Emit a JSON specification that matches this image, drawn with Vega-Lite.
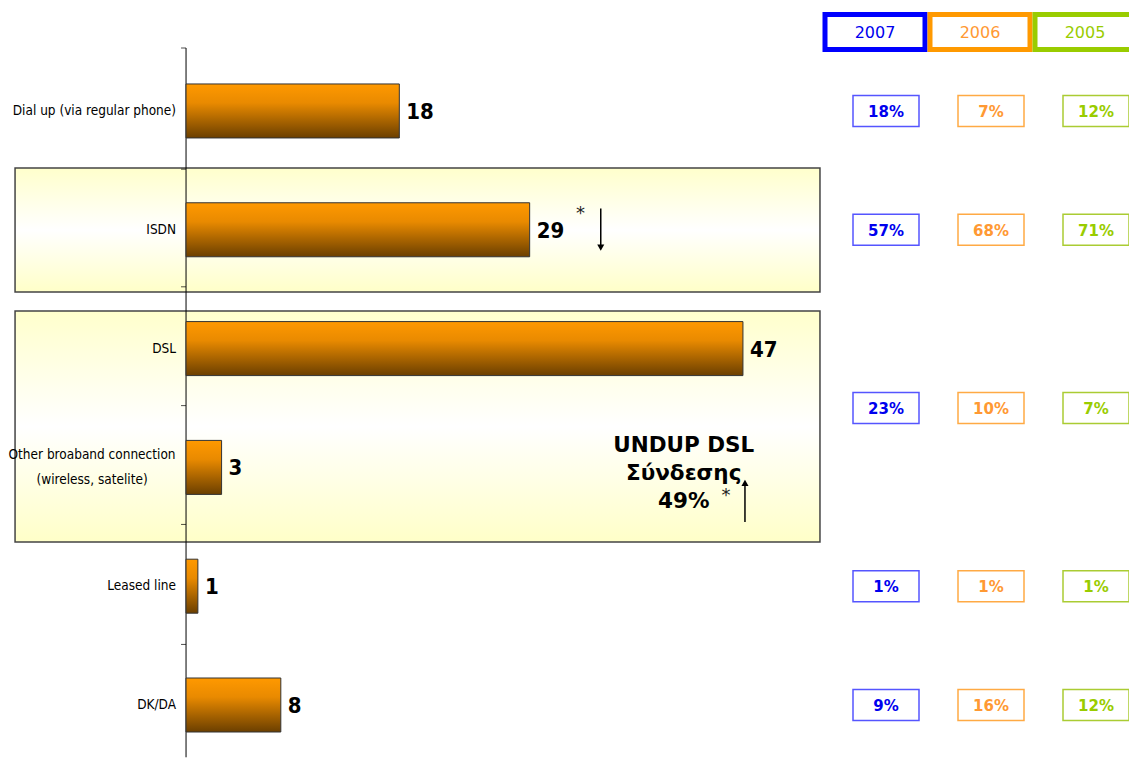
{
  "$schema": "https://vega.github.io/schema/vega-lite/v6.json",
  "width": 1129,
  "height": 758,
  "autosize": "none",
  "padding": 0,
  "background": "white",
  "config": {"view": {"stroke": null}, "scale": {"continuousPadding": 0}},
  "datasets": {
    "bars": [
      {"category": "Dial up (via regular phone)", "row": 0, "value": 18},
      {"category": "ISDN", "row": 1, "value": 29},
      {"category": "DSL", "row": 2, "value": 47},
      {"category": "Other broaband connection\n(wireless, satelite)", "row": 3, "value": 3},
      {"category": "Leased line", "row": 4, "value": 1},
      {"category": "DK/DA", "row": 5, "value": 8}
    ],
    "groups": [
      {"group": "ISDN", "x0": -14.43, "x1": 53.5, "y0": 0.48, "y1": 1.524},
      {"group": "Broadband", "x0": -14.43, "x1": 53.5, "y0": 1.684, "y1": 3.628}
    ],
    "axisline": [{"top": -0.53, "bottom": 5.44}],
    "ticks": [{"b": -0.53}, {"b": 0.49}, {"b": 1.48}, {"b": 2.48}, {"b": 3.48}, {"b": 4.49}],
    "notes": [
      {"text": "UNDUP DSL\nΣύνδεσης\n49%", "x": 42.0, "y": 2.82}
    ],
    "stars": [
      {"x": 32.9, "y": 0.87},
      {"x": 45.2, "y": 3.24}
    ],
    "arrows": [
      {"x": 35.0, "y0": 0.82, "y1": 1.15, "dir": "triangle-down"},
      {"x": 47.17, "y0": 3.46, "y1": 3.13, "dir": "triangle-up"}
    ],
    "years": [
      {"year": "2007", "row": -0.665},
      {"year": "2006", "row": -0.665},
      {"year": "2005", "row": -0.665}
    ],
    "table": [
      {"row": 0, "year": "2007", "share": "18%"},
      {"row": 0, "year": "2006", "share": "7%"},
      {"row": 0, "year": "2005", "share": "12%"},
      {"row": 1, "year": "2007", "share": "57%"},
      {"row": 1, "year": "2006", "share": "68%"},
      {"row": 1, "year": "2005", "share": "71%"},
      {"row": 2.5, "year": "2007", "share": "23%"},
      {"row": 2.5, "year": "2006", "share": "10%"},
      {"row": 2.5, "year": "2005", "share": "7%"},
      {"row": 4, "year": "2007", "share": "1%"},
      {"row": 4, "year": "2006", "share": "1%"},
      {"row": 4, "year": "2005", "share": "1%"},
      {"row": 5, "year": "2007", "share": "9%"},
      {"row": 5, "year": "2006", "share": "16%"},
      {"row": 5, "year": "2005", "share": "12%"}
    ]
  },
  "layer": [
    {
      "layer": [
        {
          "data": {"name": "groups"},
          "mark": {
            "type": "rect",
            "stroke": "#444444",
            "strokeWidth": 1.5,
            "color": {
              "gradient": "linear", "x1": 0, "y1": 0, "x2": 0, "y2": 1,
              "stops": [
                {"offset": 0, "color": "#FFFFCC"},
                {"offset": 0.5, "color": "#FFFFFF"},
                {"offset": 1, "color": "#FFFFC8"}
              ]
            }
          },
          "encoding": {
            "x": {"field": "x0", "type": "quantitative", "scale": {"domain": [-15.7, 79.58], "nice": false, "zero": false, "padding": 0}, "axis": null},
            "x2": {"field": "x1"},
            "y": {"field": "y0", "type": "quantitative", "scale": {"domain": [-0.934, 5.446], "reverse": true, "nice": false, "zero": false, "padding": 0}, "axis": null},
            "y2": {"field": "y1"}
          }
        },
        {
          "data": {"name": "axisline"},
          "mark": {"type": "rule", "color": "#000000", "strokeWidth": 1},
          "encoding": {
            "x": {"datum": 0, "type": "quantitative"},
            "y": {"field": "top", "type": "quantitative"},
            "y2": {"field": "bottom"}
          }
        },
        {
          "data": {"name": "ticks"},
          "mark": {"type": "tick", "orient": "horizontal", "size": 5, "thickness": 1, "xOffset": -2.5, "color": "#000000"},
          "encoding": {
            "x": {"datum": 0, "type": "quantitative"},
            "y": {"field": "b", "type": "quantitative"}
          }
        },
        {
          "data": {"name": "bars"},
          "mark": {
            "type": "bar",
            "orient": "horizontal",
            "size": 54,
            "stroke": "#333333",
            "strokeWidth": 1,
            "color": {
              "gradient": "linear", "x1": 0, "y1": 0, "x2": 0, "y2": 1,
              "stops": [
                {"offset": 0, "color": "#FF9900"},
                {"offset": 0.35, "color": "#E98A00"},
                {"offset": 1, "color": "#6B3F00"}
              ]
            }
          },
          "encoding": {
            "x": {"field": "value", "type": "quantitative"},
            "x2": {"datum": 0},
            "y": {"field": "row", "type": "quantitative"}
          }
        },
        {
          "data": {"name": "bars"},
          "mark": {"type": "text", "align": "left", "baseline": "middle", "dx": 7, "dy": 1, "font": "DejaVu Sans Condensed", "fontWeight": "bold", "fontSize": 22, "color": "#000000"},
          "encoding": {
            "x": {"field": "value", "type": "quantitative"},
            "y": {"field": "row", "type": "quantitative"},
            "text": {"field": "value", "type": "quantitative"}
          }
        },
        {
          "data": {"name": "bars"},
          "transform": [{"filter": "indexof(datum.category, '\\n') < 0"}],
          "mark": {"type": "text", "align": "right", "baseline": "middle", "dx": -10, "font": "DejaVu Sans Condensed", "fontSize": 13.5, "color": "#000000"},
          "encoding": {
            "x": {"datum": 0, "type": "quantitative"},
            "y": {"field": "row", "type": "quantitative"},
            "text": {"field": "category", "type": "nominal"}
          }
        },
        {
          "data": {"name": "bars"},
          "transform": [{"filter": "indexof(datum.category, '\\n') >= 0"}],
          "mark": {"type": "text", "align": "center", "baseline": "middle", "dx": -94, "dy": -12, "lineBreak": "\n", "lineHeight": 25, "font": "DejaVu Sans Condensed", "fontSize": 13.5, "color": "#000000"},
          "encoding": {
            "x": {"datum": 0, "type": "quantitative"},
            "y": {"field": "row", "type": "quantitative"},
            "text": {"field": "category", "type": "nominal"}
          }
        },
        {
          "data": {"name": "notes"},
          "mark": {"type": "text", "align": "center", "baseline": "middle", "lineBreak": "\n", "lineHeight": 28, "font": "DejaVu Sans", "fontWeight": "bold", "fontSize": 21.5, "color": "#000000"},
          "encoding": {
            "x": {"field": "x", "type": "quantitative"},
            "y": {"field": "y", "type": "quantitative"},
            "text": {"field": "text", "type": "nominal"}
          }
        },
        {
          "data": {"name": "stars"},
          "mark": {"type": "text", "align": "left", "baseline": "middle", "text": "*", "font": "DejaVu Sans", "fontSize": 18, "color": "#222222"},
          "encoding": {
            "x": {"field": "x", "type": "quantitative"},
            "y": {"field": "y", "type": "quantitative"}
          }
        },
        {
          "data": {"name": "arrows"},
          "mark": {"type": "rule", "color": "#000000", "strokeWidth": 1.5},
          "encoding": {
            "x": {"field": "x", "type": "quantitative"},
            "y": {"field": "y0", "type": "quantitative"},
            "y2": {"field": "y1"}
          }
        },
        {
          "data": {"name": "arrows"},
          "mark": {"type": "point", "filled": true, "size": 50, "color": "#000000", "opacity": 1},
          "encoding": {
            "x": {"field": "x", "type": "quantitative"},
            "y": {"field": "y1", "type": "quantitative"},
            "shape": {"field": "dir", "type": "nominal", "scale": {"domain": ["triangle-down", "triangle-up"], "range": ["triangle-down", "triangle-up"]}, "legend": null}
          }
        }
      ]
    },
    {
      "layer": [
        {
          "data": {"name": "years"},
          "mark": {"type": "rect", "width": 100, "height": 35, "xOffset": -11, "strokeWidth": 5, "fill": "#FFFFFF"},
          "encoding": {
            "x": {"field": "year", "type": "ordinal", "scale": {"type": "point", "domain": ["2007", "2006", "2005"], "range": [886, 1096], "padding": 0}, "axis": null},
            "y": {"field": "row", "type": "quantitative", "scale": {"domain": [-0.934, 5.446], "reverse": true, "nice": false, "zero": false, "padding": 0}, "axis": null},
            "stroke": {"field": "year", "type": "nominal", "scale": {"domain": ["2007", "2006", "2005"], "range": ["#0000FF", "#FF9900", "#99CC00"]}, "legend": null}
          }
        },
        {
          "data": {"name": "years"},
          "mark": {"type": "text", "align": "center", "baseline": "middle", "xOffset": -11, "dy": 1, "font": "DejaVu Sans", "fontSize": 16},
          "encoding": {
            "x": {"field": "year", "type": "ordinal"},
            "y": {"field": "row", "type": "quantitative"},
            "text": {"field": "year", "type": "nominal"},
            "color": {"field": "year", "type": "nominal", "scale": {"domain": ["2007", "2006", "2005"], "range": ["#0000EE", "#FF9933", "#99CC00"]}, "legend": null}
          }
        },
        {
          "data": {"name": "table"},
          "mark": {"type": "rect", "width": 66, "height": 31, "strokeWidth": 1.5, "fill": "#FFFFFF"},
          "encoding": {
            "x": {"field": "year", "type": "ordinal"},
            "y": {"field": "row", "type": "quantitative"},
            "stroke": {"field": "year", "type": "nominal", "scale": {"domain": ["2007", "2006", "2005"], "range": ["#5555FF", "#FFAA44", "#AACC33"]}, "legend": null}
          }
        },
        {
          "data": {"name": "table"},
          "mark": {"type": "text", "align": "center", "baseline": "middle", "dy": 1, "font": "DejaVu Sans", "fontWeight": "bold", "fontSize": 15},
          "encoding": {
            "x": {"field": "year", "type": "ordinal"},
            "y": {"field": "row", "type": "quantitative"},
            "text": {"field": "share", "type": "nominal"},
            "color": {"field": "year", "type": "nominal"}
          }
        }
      ],
      "resolve": {"scale": {"stroke": "independent"}}
    }
  ],
  "resolve": {"scale": {"x": "independent"}}
}
